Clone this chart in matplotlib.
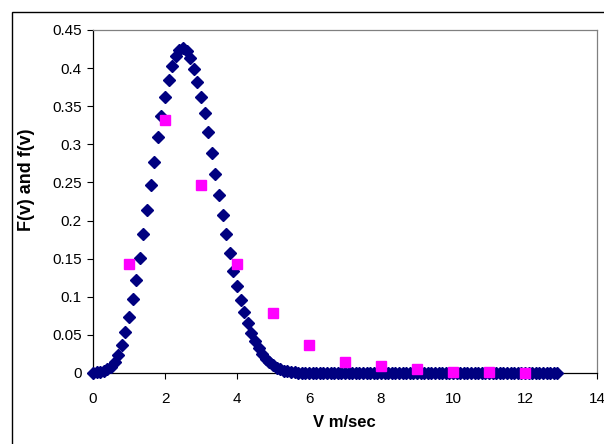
import matplotlib.pyplot as plt
from matplotlib.patches import Rectangle
import numpy as np

plt.rcParams['font.family'] = ['Liberation Sans', 'DejaVu Sans']

# speed grid for the theoretical curve (0.1 m/sec steps)
v_curve = np.round(np.arange(0, 130) * 0.1, 1)
f_curve = [
    0.000, 0.001, 0.001, 0.003, 0.005, 0.008, 0.014, 0.024, 0.037, 0.054,
    0.074, 0.097, 0.122, 0.151, 0.182, 0.214, 0.246, 0.277, 0.309, 0.337,
    0.362, 0.385, 0.403, 0.416, 0.424, 0.426, 0.422, 0.413, 0.399, 0.382,
    0.362, 0.341, 0.316, 0.289, 0.261, 0.233, 0.207, 0.182, 0.157, 0.134,
    0.114, 0.096, 0.080, 0.066, 0.053, 0.042, 0.033, 0.025, 0.019, 0.014,
    0.010, 0.007, 0.005, 0.003, 0.002, 0.001, 0.001, 0.000, 0.000, 0.000,
    0.000, 0.000, 0.000, 0.000, 0.000, 0.000, 0.000, 0.000, 0.000, 0.000,
    0.000, 0.000, 0.000, 0.000, 0.000, 0.000, 0.000, 0.000, 0.000, 0.000,
    0.000, 0.000, 0.000, 0.000, 0.000, 0.000, 0.000, 0.000, 0.000, 0.000,
    0.000, 0.000, 0.000, 0.000, 0.000, 0.000, 0.000, 0.000, 0.000, 0.000,
    0.000, 0.000, 0.000, 0.000, 0.000, 0.000, 0.000, 0.000, 0.000, 0.000,
    0.000, 0.000, 0.000, 0.000, 0.000, 0.000, 0.000, 0.000, 0.000, 0.000,
    0.000, 0.000, 0.000, 0.000, 0.000, 0.000, 0.000, 0.000, 0.000, 0.000,
]

# measured values
v_meas = [1, 2, 3, 4, 5, 6, 7, 8, 9, 10, 11, 12]
F_meas = [0.143, 0.332, 0.247, 0.143, 0.079, 0.037, 0.014, 0.009, 0.005, 0.001, 0.001, 0.000]

x_ticks = [0, 2, 4, 6, 8, 10, 12, 14]
y_ticks = [0, 0.05, 0.1, 0.15, 0.2, 0.25, 0.3, 0.35, 0.4, 0.45]
y_labels = ['0', '0.05', '0.1', '0.15', '0.2', '0.25', '0.3', '0.35', '0.4', '0.45']

fig = plt.figure(figsize=(6.04, 4.44), dpi=100)
W, H = 604, 444
ax = fig.add_axes([93 / W, 1 - 373 / H, (597 - 93) / W, (373 - 30) / H])

ax.plot(v_curve, f_curve, linestyle='none', marker='D', markersize=6.0,
        color='#000080', markeredgecolor='#000080', clip_on=False, zorder=3)
ax.plot(v_meas, F_meas, linestyle='none', marker='s', markersize=6.5,
        color='#FF00FF', markeredgecolor='#FF00FF', clip_on=False, zorder=4)

ax.set_xlim(0, 14)
ax.set_ylim(0, 0.45)
ax.set_xticks(x_ticks)
ax.set_yticks(y_ticks)
ax.set_yticklabels(y_labels)
ax.tick_params(axis='both', direction='out', length=4, width=0.8, labelsize=11, color='black')
ax.tick_params(axis='y', pad=4)
ax.tick_params(axis='x', pad=10)

for side in ['top', 'right']:
    ax.spines[side].set_color('#808080')
    ax.spines[side].set_linewidth(0.9)
for side in ['left', 'bottom']:
    ax.spines[side].set_color('black')
    ax.spines[side].set_linewidth(0.9)

ax.set_xlabel('V m/sec', fontsize=12, fontweight='bold')
ax.set_ylabel('F(v) and f(v)', fontsize=13, fontweight='bold')
ax.xaxis.set_label_coords((344 - 93) / (597 - 93), -(415 - 373) / (373 - 30))
ax.yaxis.set_label_coords(-(93 - 35) / (597 - 93), (373 - 180) / (373 - 30))

# chart area border (runs off the right and bottom of the picture)
fig.patches.append(Rectangle((11.5 / W, -0.05), 1.0, 1 - 12.5 / H + 0.05,
                             transform=fig.transFigure, fill=False,
                             edgecolor='black', linewidth=1.0))

fig.savefig('out.png', dpi=100)
